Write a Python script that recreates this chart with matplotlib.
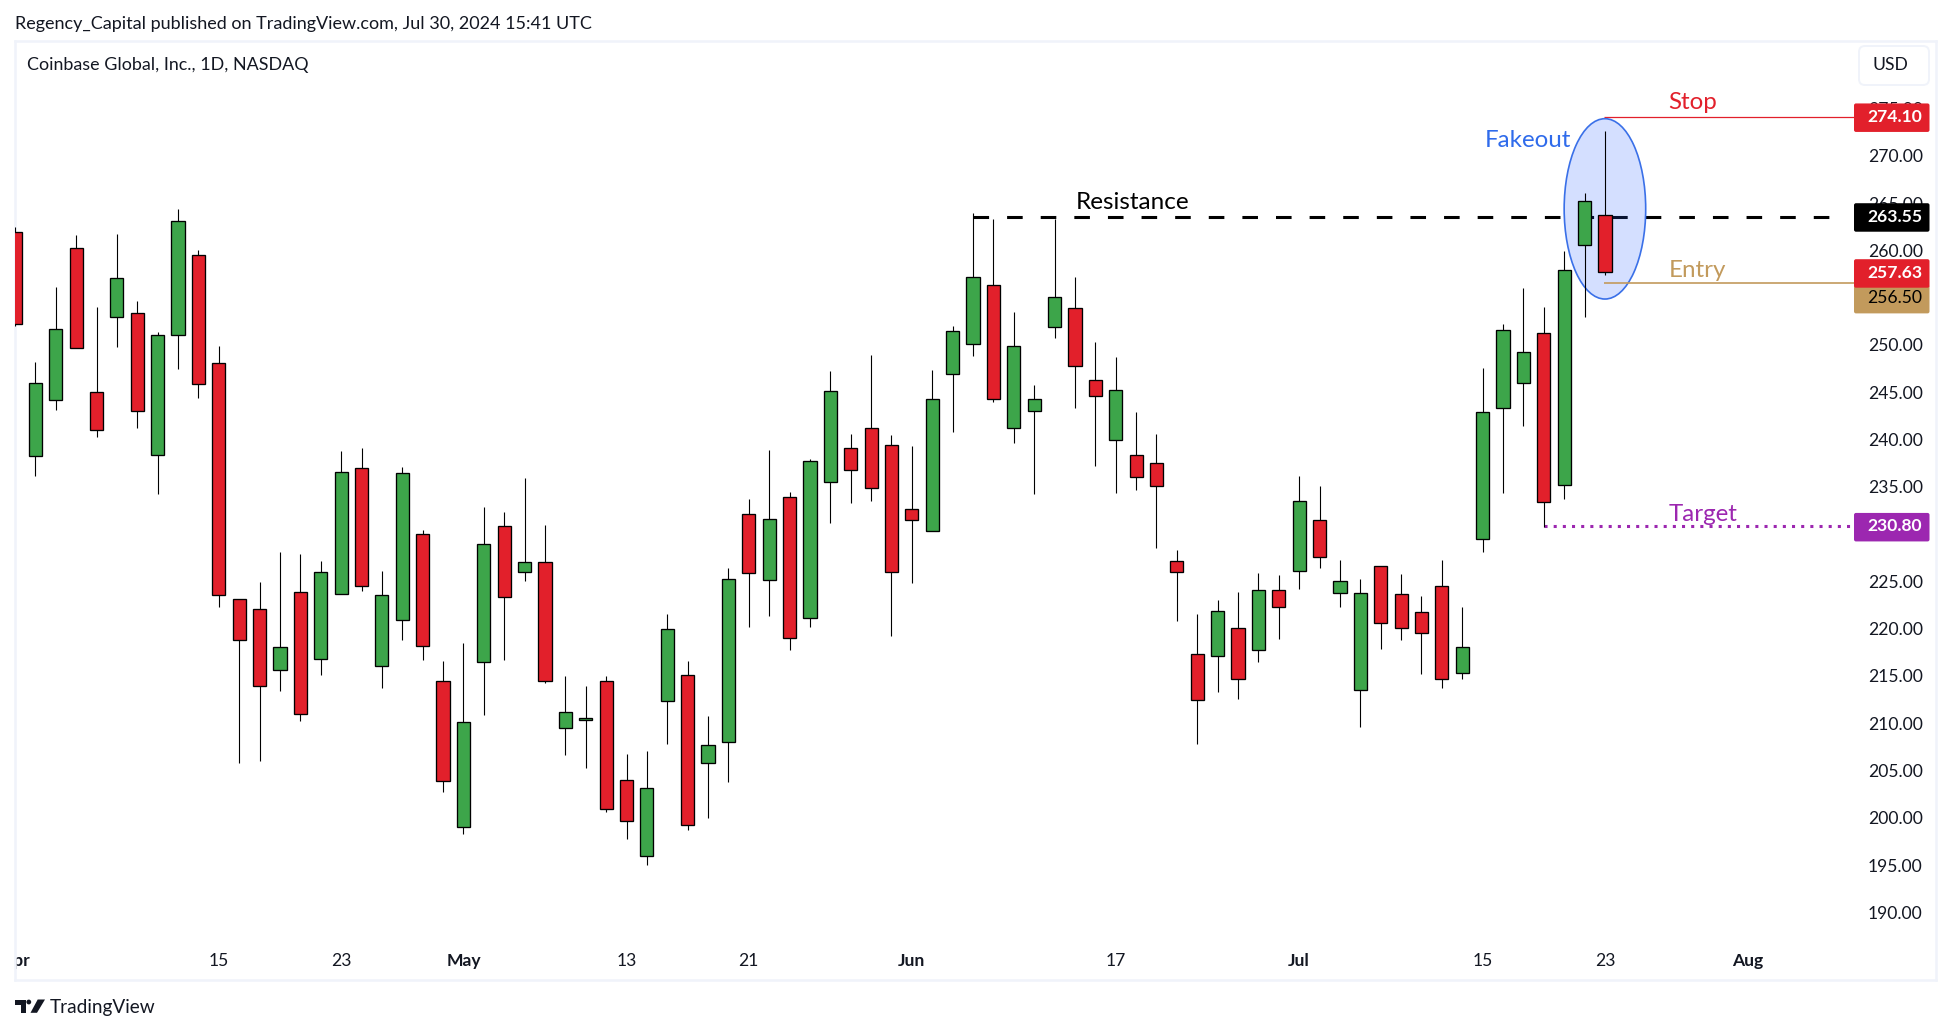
import numpy as np
import matplotlib
matplotlib.use("Agg")
import matplotlib.pyplot as plt
from matplotlib.patches import Ellipse, FancyBboxPatch, Polygon, Circle

plt.rcParams["font.family"] = ["Lato", "DejaVu Sans"]

# ── Daily candles, first one is Apr 1 (clipped by the left edge) ──────────────
opens = [261.9, 238.2, 244.13, 260.2, 244.97, 252.9, 253.33, 238.31, 251.0, 259.46,
         248.04, 223.09, 222.12, 215.57, 223.91, 216.83, 223.7, 236.93, 216.07, 220.86,
         229.96, 214.42, 199.06, 216.5, 230.89, 225.93, 227.01, 209.52, 210.28, 214.49,
         204.02, 196.0, 212.31, 215.06, 205.75, 207.97, 232.07, 225.1, 233.87, 221.08,
         235.46, 239.05, 241.17, 239.37, 232.6, 230.28, 246.88, 250.05, 256.29, 241.17,
         242.97, 251.85, 253.86, 246.24, 239.9, 238.31, 237.47, 227.1, 217.27, 217.06,
         220.01, 217.69, 224.04, 226.05, 231.46, 223.81, 213.55, 226.57, 223.63, 221.72,
         224.45, 215.34, 229.44, 243.28, 245.93, 251.21, 235.14, 260.52, 263.69]
highs = [262.5, 248.14, 256.11, 261.57, 253.99, 261.72, 254.63, 251.35, 264.32, 260.0,
         249.87, 223.09, 224.92, 228.09, 227.87, 227.19, 238.73, 239.05, 226.07, 237.04,
         230.42, 216.61, 218.52, 232.83, 232.3, 235.91, 230.93, 214.96, 213.91, 214.96,
         206.72, 207.04, 221.54, 216.57, 210.76, 226.36, 233.66, 238.88, 234.4, 237.92,
         247.23, 240.57, 248.92, 240.46, 239.3, 247.34, 251.99, 263.9, 263.3, 253.43,
         245.75, 263.3, 257.17, 250.3, 248.71, 242.89, 240.57, 228.27, 221.53, 222.99,
         223.85, 225.83, 225.66, 236.13, 235.08, 227.21, 225.19, 226.57, 225.75, 223.4,
         227.21, 222.28, 247.51, 252.2, 255.97, 253.96, 259.88, 266.02, 272.61]
lows = [252.0, 236.16, 243.14, 249.63, 240.28, 249.8, 241.24, 234.26, 247.47, 244.41,
        222.3, 205.78, 205.96, 213.41, 210.24, 215.06, 223.7, 223.99, 213.73, 218.81,
        216.68, 202.73, 198.27, 210.89, 216.68, 225.06, 214.27, 206.65, 205.28, 200.6,
        197.76, 194.99, 207.83, 198.74, 199.97, 203.81, 220.19, 221.36, 217.76, 220.19,
        231.19, 233.31, 233.52, 219.24, 224.85, 230.28, 240.81, 248.85, 243.99, 239.65,
        234.26, 250.75, 243.35, 237.22, 234.36, 234.68, 228.55, 220.83, 207.81, 213.33,
        212.58, 216.49, 218.93, 224.21, 226.42, 222.32, 209.64, 217.88, 218.81, 215.2,
        213.7, 214.71, 228.14, 234.37, 241.45, 230.77, 233.66, 252.98, 257.38]
closes = [252.2, 245.92, 251.63, 249.63, 240.96, 257.03, 242.96, 251.0, 263.05, 245.82,
          223.52, 218.84, 213.88, 218.09, 211.0, 225.93, 236.51, 224.45, 223.59, 236.41,
          218.19, 203.91, 210.17, 228.91, 223.3, 227.01, 214.42, 211.22, 210.5, 200.96,
          199.6, 203.09, 219.92, 199.19, 207.65, 225.2, 225.83, 231.54, 218.96, 237.68,
          245.08, 236.73, 234.82, 225.94, 231.44, 244.23, 251.42, 257.13, 244.23, 249.84,
          244.23, 255.02, 247.72, 244.55, 245.19, 235.99, 235.03, 225.94, 212.4, 221.83,
          214.64, 224.04, 222.24, 233.45, 227.54, 225.0, 223.74, 220.64, 220.01, 219.56,
          214.71, 218.1, 242.86, 251.53, 249.2, 233.34, 257.88, 265.17, 257.66]

FIRST_BAR = -1

# axis labels
price_ticks = [190, 195, 200, 205, 210, 215, 220, 225, 230, 235, 240, 245,
               250, 255, 260, 265, 270, 275]
date_pos = [-1, 9, 15, 21, 29, 35, 43, 53, 62, 71, 77, 84]
date_lbl = ["Apr", "15", "23", "May", "13", "21", "Jun", "17", "Jul", "15", "23", "Aug"]
MONTHS = {"Apr", "May", "Jun", "Jul", "Aug"}

# drawn levels
RESIST = 263.55
STOP = 274.10
ENTRY = 256.50
TARGET = 230.80
LAST_CLOSE = 257.63

GREEN = "#3DA54A"
RED = "#E2202B"
TAN = "#C29A5C"
PURPLE = "#9C27B0"
BLUE = "#2F6BEB"
FRAME = "#F0F3FA"
INK = "#131722"

W, H = 1950, 1033
PX0, PX_BAR = 32.0, 20.42   # pixel of bar 0, pixels per bar


def bar_at(px):
    return (px - PX0) / PX_BAR


fig = plt.figure(figsize=(W / 100, H / 100), dpi=100, facecolor="white")

# chart frame, px: x 15..1936, y 41..980
L, R, T, B = 15, 1936, 41, 980
ax = fig.add_axes([L / W, 1 - B / H, (R - L) / W, (B - T) / H])
ax.set_xlim(bar_at(L), bar_at(R))
ax.set_ylim(182.84, 282.13)
for s in ax.spines.values():
    s.set_color(FRAME)
    s.set_linewidth(1.8)

# ── Candles ───────────────────────────────────────────────────────────────────
xs = np.arange(FIRST_BAR, FIRST_BAR + len(opens))
o, h, l, c = map(np.array, (opens, highs, lows, closes))
cols = [GREEN if ci > oi else RED for oi, ci in zip(o, c)]
ax.vlines(xs, l, h, color="black", lw=0.8, zorder=4)
ax.bar(xs, np.abs(c - o), bottom=np.minimum(o, c), width=0.645, color=cols,
       edgecolor="black", lw=0.95, zorder=5)

# ── Levels ────────────────────────────────────────────────────────────────────
x_tag = bar_at(1854)
ax.hlines(RESIST, 46, bar_at(1845), color="black", lw=2.2,
          linestyles=[(0, (5.1, 5.9))], zorder=2)
ax.hlines(STOP, 76.95, x_tag, color=RED, lw=0.9, zorder=3)
ax.hlines(ENTRY, 76.95, x_tag, color=TAN, lw=1.2, zorder=6)
ax.hlines(TARGET, 74, x_tag, color=PURPLE, lw=2.2,
          linestyles=[(0, (1, 2))], zorder=3)
ax.add_patch(Ellipse((77, 264.38), 4.0, 19.07, facecolor="#2962FF", alpha=0.2,
                     edgecolor="none", zorder=3))
ax.add_patch(Ellipse((77, 264.38), 4.0, 19.07, facecolor="none",
                     edgecolor="#3A70E8", lw=1.2, zorder=3.1))

ax.text(bar_at(1527), 271.6, "Fakeout", color=BLUE, fontsize=17.4, ha="center", va="center", zorder=7)
ax.text(bar_at(1131.5), 265.05, "Resistance", color="black", fontsize=17.5, ha="center", va="center", zorder=7)
ax.text(bar_at(1668), 275.6, "Stop", color=RED, fontsize=17.4, ha="left", va="center", zorder=7)
ax.text(bar_at(1668), 257.9, "Entry", color=TAN, fontsize=17.4, ha="left", va="center", zorder=7)
ax.text(bar_at(1668), 232.05, "Target", color=PURPLE, fontsize=17.4, ha="left", va="center", zorder=7)

# ── Axes labels drawn inside the frame ────────────────────────────────────────
ax.yaxis.tick_right()
ax.set_yticks(price_ticks)
ax.set_yticklabels([f"{p:.2f}" for p in price_ticks])
ax.tick_params(axis="y", length=0, pad=-49, labelsize=12.6, labelcolor=INK)
for t in ax.get_yticklabels():
    t.set_ha("left")
ax.set_xticks(date_pos)
ax.set_xticklabels(date_lbl)
ax.tick_params(axis="x", length=0, pad=-19.7, labelsize=12.6, labelcolor=INK)
for t in ax.get_xticklabels():
    t.set_clip_on(True)
    t.set_clip_box(ax.bbox)
    if t.get_text() in MONTHS:
        t.set_fontweight("bold")

# ── Overlay in pixels: tags, button, header and logo ──────────────────────────
ov = fig.add_axes([0, 0, 1, 1], facecolor="none", zorder=10)
ov.set_xlim(0, W)
ov.set_ylim(H, 0)
ov.axis("off")


def py(price):
    return H - ax.transData.transform((0, price))[1]


def tag(price, text, face, ink, shift=0):
    # price tag on the right scale, shift moves a tag clear of its neighbour
    y = py(price) + shift
    ov.add_patch(FancyBboxPatch((1854 + 2, y - 13.5 + 2), 75.5 - 4, 28.5 - 4,
                                boxstyle="round,pad=2,rounding_size=2",
                                facecolor=face, edgecolor="none"))
    ov.text(1922, y, text, color=ink, fontsize=12.6, ha="right", va="center",
            fontweight="bold" if ink == "white" else "normal")


tag(ENTRY, "256.50", TAN, "black", shift=15)
tag(LAST_CLOSE, "257.63", RED, "white")
tag(RESIST, "263.55", "black", "white")
tag(STOP, "274.10", RED, "white")
tag(TARGET, "230.80", PURPLE, "white")

# USD button
ov.add_patch(FancyBboxPatch((1864, 51), 60, 29, boxstyle="round,pad=5,rounding_size=6",
                            facecolor="white", edgecolor=FRAME, lw=1.4))
ov.text(1890, 65, "USD", color=INK, fontsize=12.6, ha="center", va="center")

ov.text(15, 24, "Regency_Capital published on TradingView.com, Jul 30, 2024 15:41 UTC",
        color=INK, fontsize=12.95, ha="left", va="center")
ov.text(27, 65, "Coinbase Global, Inc., 1D, NASDAQ", color=INK, fontsize=12.9,
        ha="left", va="center")

# TradingView mark
ov.add_patch(Polygon([(15.3, 999.5), (26, 999.5), (26, 1012.8), (21, 1012.8),
                      (21, 1004.5), (15.3, 1004.5)], facecolor=INK, edgecolor="none"))
ov.add_patch(Circle((28.8, 1002), 2.4, facecolor=INK, edgecolor="none"))
ov.add_patch(Polygon([(37.7, 999.5), (45, 999.5), (37, 1012.8), (30.5, 1012.8)],
                     facecolor=INK, edgecolor="none"))
ov.text(50, 1008, "TradingView", color=INK, fontsize=13.7, ha="left", va="center")

fig.savefig("out.png", dpi=100)
